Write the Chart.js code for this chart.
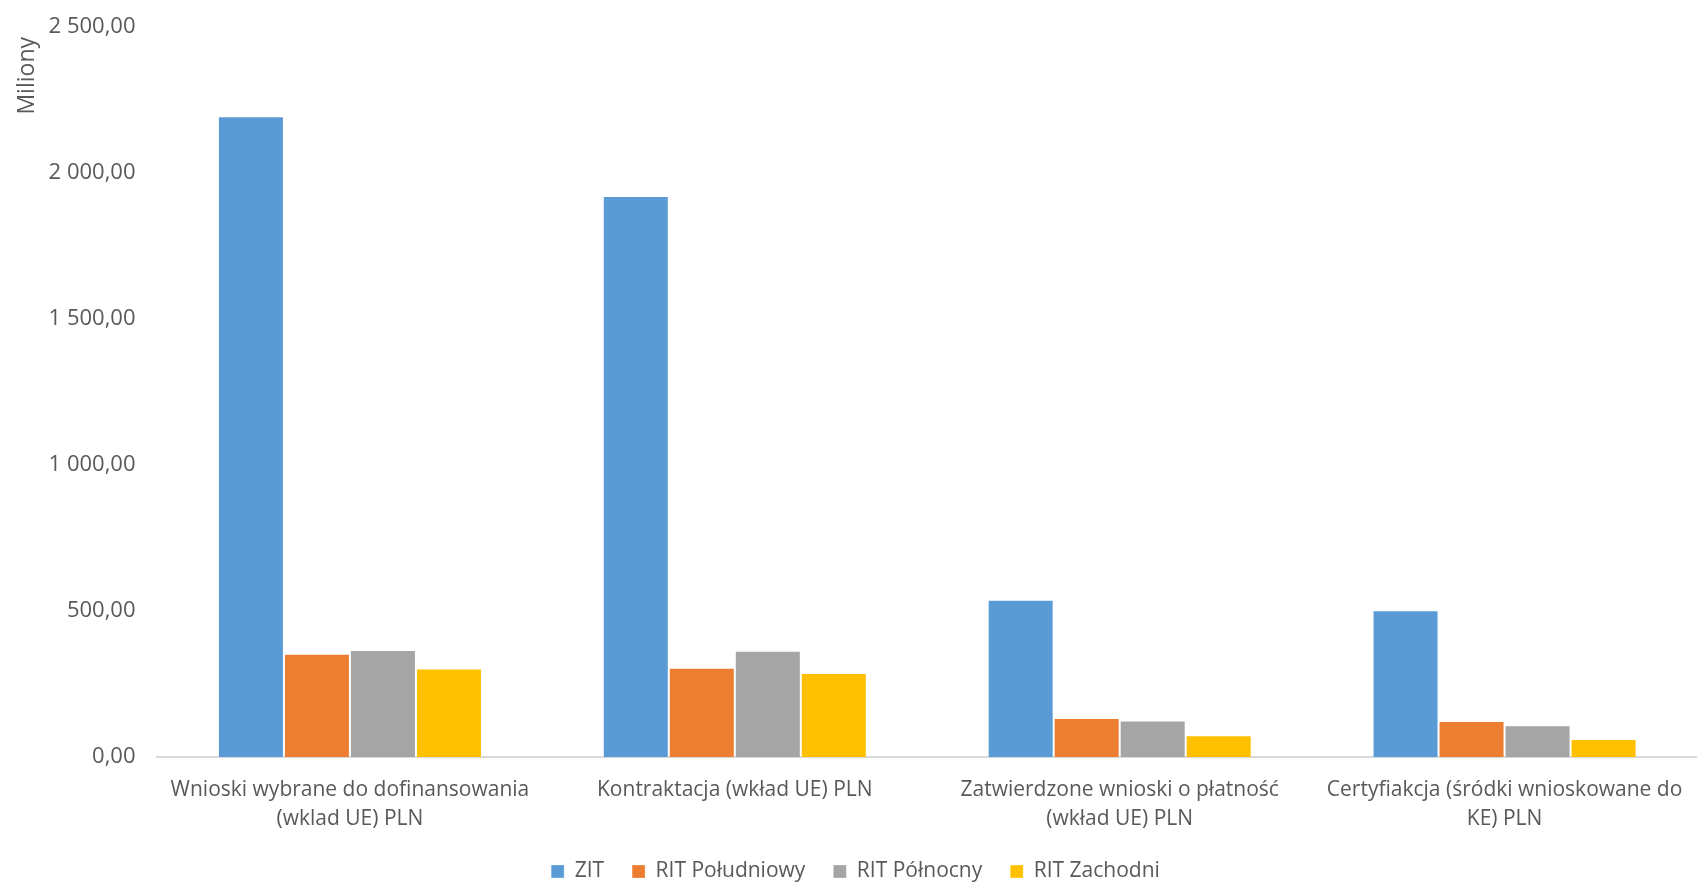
<!DOCTYPE html>
<html>
<head>
<meta charset="utf-8">
<script src="https://cdn.jsdelivr.net/npm/chart.js@4"></script>
<style>
  html, body { margin: 0; padding: 0; background: #fff; }
  #wrap { width: 1697px; height: 883px; }
</style>
</head>
<body>
<div id="wrap"><canvas id="chart"></canvas></div>
<script>
const categories = [
  ['Wnioski wybrane do dofinansowania', '(wklad UE) PLN'],
  'Kontraktacja (wkład UE) PLN',
  ['Zatwierdzone wnioski o płatność', '(wkład UE) PLN'],
  ['Certyfiakcja (śródki wnioskowane do', 'KE) PLN']
];
const seriesNames = ['ZIT', 'RIT Południowy', 'RIT Północny', 'RIT Zachodni'];
const zit = [2195, 1922, 538, 502];
const ritPoludniowy = [353, 305, 133, 123];
const ritPolnocny = [366, 364, 125, 108];
const ritZachodni = [303, 287, 74, 61];
const yTicks = [0, 500, 1000, 1500, 2000, 2500];

const colors = ['#5B9BD5', '#ED7D31', '#A5A5A5', '#FFC000'];
const values = [zit, ritPoludniowy, ritPolnocny, ritZachodni];

// "2 500,00" style
function fmt(v) {
  const s = v.toFixed(2).split('.');
  const int = s[0].replace(/\B(?=(\d{3})+(?!\d))/g, ' ');
  return int + ',' + s[1];
}

const family = "'Open Sans', sans-serif";
const grey = '#595959';

new Chart(document.getElementById('chart'), {
  type: 'bar',
  data: {
    labels: categories,
    datasets: seriesNames.map((name, i) => ({
      label: name,
      data: values[i],
      backgroundColor: colors[i],
      borderColor: 'rgba(255,255,255,0.3)',
      borderWidth: 1,
      barPercentage: 1,
      categoryPercentage: 0.686
    }))
  },
  options: {
    responsive: true,
    maintainAspectRatio: false,
    animation: false,
    layout: { padding: { top: -6, right: 0, left: 14, bottom: -9 } },
    plugins: {
      legend: {
        position: 'bottom',
        labels: {
          font: { family: family, size: 21 },
          color: grey,
          boxWidth: 13,
          boxHeight: 13,
          padding: 28
        }
      },
      tooltip: { enabled: false }
    },
    scales: {
      x: {
        grid: { display: false },
        border: { color: '#D9D9D9', width: 2 },
        ticks: { font: { family: family, size: 21, lineHeight: 1.36 }, color: grey, maxRotation: 0, padding: 11 },
        // pull the legend a bit closer to the labels
        afterFit: axis => { axis.height -= 11; }
      },
      y: {
        min: 0,
        max: 2500,
        afterBuildTicks: axis => { axis.ticks = yTicks.map(v => ({ value: v })); },
        grid: { display: false },
        border: { display: false },
        ticks: { font: { family: family, size: 22 }, color: grey, padding: 14, callback: v => fmt(v) },
        title: {
          display: true,
          text: 'Miliony \u2009',
          align: 'end',
          font: { family: family, size: 23 },
          color: grey,
          padding: { top: 0, bottom: -7 }
        }
      }
    }
  }
});
</script>
</body>
</html>
